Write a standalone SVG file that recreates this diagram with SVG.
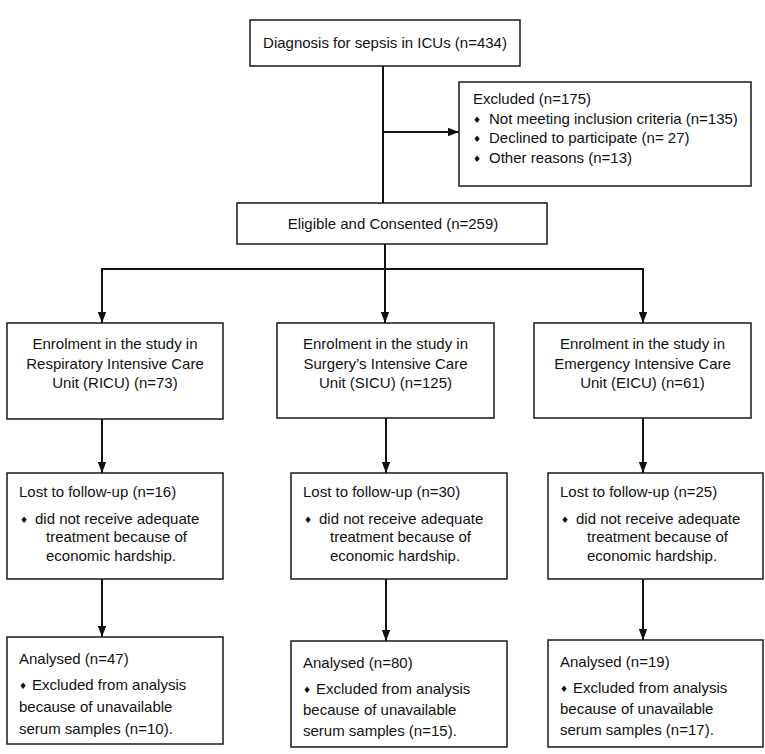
<svg xmlns="http://www.w3.org/2000/svg" width="765" height="754" viewBox="0 0 765 754">
<style>
.box{fill:#fff;stroke:#1a1a1a;stroke-width:1.5}
.t{font-family:"Liberation Sans",Arial,sans-serif;font-size:15px;fill:#111}
.c{text-anchor:middle}
.b{font-family:"DejaVu Sans",sans-serif;font-size:9px;fill:#111}
.ln{fill:none;stroke:#111;stroke-width:2}
</style>
<defs>
<marker id="ah" markerUnits="userSpaceOnUse" markerWidth="11" markerHeight="10" viewBox="0 0 11 10" refX="11" refY="5" orient="auto">
<path d="M0,0.8 L11,5 L0,9.2 Z" fill="#111"/>
</marker>
</defs>
<rect width="765" height="754" fill="#fff"/>
<g id="connectors">
<line class="ln" x1="383" y1="66" x2="383" y2="203"/>
<line class="ln" x1="383" y1="132" x2="459" y2="132" marker-end="url(#ah)"/>
<line class="ln" x1="385" y1="244" x2="385" y2="323" marker-end="url(#ah)"/>
<line class="ln" x1="101" y1="269" x2="644" y2="269"/>
<line class="ln" x1="102" y1="268" x2="102" y2="323" marker-end="url(#ah)"/>
<line class="ln" x1="643" y1="268" x2="643" y2="323" marker-end="url(#ah)"/>
<line class="ln" x1="102" y1="419" x2="102" y2="473" marker-end="url(#ah)"/>
<line class="ln" x1="386" y1="418" x2="386" y2="473" marker-end="url(#ah)"/>
<line class="ln" x1="643" y1="418" x2="643" y2="473" marker-end="url(#ah)"/>
<line class="ln" x1="102" y1="579" x2="102" y2="637" marker-end="url(#ah)"/>
<line class="ln" x1="386" y1="579" x2="386" y2="641" marker-end="url(#ah)"/>
<line class="ln" x1="643" y1="579" x2="643" y2="640" marker-end="url(#ah)"/>
</g>
<g id="diagnosis">
<rect class="box" x="250" y="20" width="270" height="46"/>
<text class="t c" x="385" y="48">Diagnosis for sepsis in ICUs (n=434)</text>
</g>
<g id="excluded">
<rect class="box" x="459" y="82" width="292" height="104"/>
<text class="t" x="473" y="104">Excluded (n=175)</text>
<text class="b" x="473" y="123">♦</text><text class="t" x="489" y="124">Not meeting inclusion criteria (n=135)</text>
<text class="b" x="473" y="142">♦</text><text class="t" x="489" y="143">Declined to participate (n= 27)</text>
<text class="b" x="473" y="162">♦</text><text class="t" x="489" y="163">Other reasons (n=13)</text>
</g>
<g id="eligible">
<rect class="box" x="237" y="203" width="310" height="41"/>
<text class="t c" x="393" y="229">Eligible and Consented (n=259)</text>
</g>
<g id="enrol-ricu">
<rect class="box" x="7" y="323" width="216" height="96"/>
<text class="t c" x="115" y="349">Enrolment in the study in</text>
<text class="t c" x="115" y="369">Respiratory Intensive Care</text>
<text class="t c" x="115" y="388">Unit (RICU) (n=73)</text>
</g>
<g id="enrol-sicu">
<rect class="box" x="277" y="323" width="217" height="95"/>
<text class="t c" x="385.5" y="349">Enrolment in the study in</text>
<text class="t c" x="385.5" y="369">Surgery’s Intensive Care</text>
<text class="t c" x="385.5" y="388">Unit (SICU) (n=125)</text>
</g>
<g id="enrol-eicu">
<rect class="box" x="534" y="323" width="217" height="95"/>
<text class="t c" x="642.5" y="349">Enrolment in the study in</text>
<text class="t c" x="642.5" y="369">Emergency Intensive Care</text>
<text class="t c" x="642.5" y="388">Unit (EICU) (n=61)</text>
</g>
<g id="lost-ricu">
<rect class="box" x="7" y="473" width="216" height="106"/>
<text class="t" x="19" y="497">Lost to follow-up (n=16)</text>
<text class="b" x="20" y="523">♦</text><text class="t" x="35" y="524">did not receive adequate</text>
<text class="t" x="46" y="542">treatment because of</text>
<text class="t" x="46" y="561">economic hardship.</text>
</g>
<g id="lost-sicu">
<rect class="box" x="291" y="473" width="216" height="106"/>
<text class="t" x="303" y="497">Lost to follow-up (n=30)</text>
<text class="b" x="304" y="523">♦</text><text class="t" x="319" y="524">did not receive adequate</text>
<text class="t" x="330" y="542">treatment because of</text>
<text class="t" x="330" y="561">economic hardship.</text>
</g>
<g id="lost-eicu">
<rect class="box" x="548" y="473" width="215" height="106"/>
<text class="t" x="560" y="497">Lost to follow-up (n=25)</text>
<text class="b" x="561" y="523">♦</text><text class="t" x="576" y="524">did not receive adequate</text>
<text class="t" x="587" y="542">treatment because of</text>
<text class="t" x="587" y="561">economic hardship.</text>
</g>
<g id="analysed-ricu">
<rect class="box" x="7" y="637" width="216" height="107"/>
<text class="t" x="19" y="664">Analysed (n=47)</text>
<text class="b" x="19" y="689">♦</text><text class="t" x="32" y="690">Excluded from analysis</text>
<text class="t" x="19" y="712">because of unavailable</text>
<text class="t" x="19" y="734">serum samples (n=10).</text>
</g>
<g id="analysed-sicu">
<rect class="box" x="291" y="641" width="216" height="106"/>
<text class="t" x="303" y="668">Analysed (n=80)</text>
<text class="b" x="303" y="693">♦</text><text class="t" x="316" y="694">Excluded from analysis</text>
<text class="t" x="303" y="715">because of unavailable</text>
<text class="t" x="303" y="736">serum samples (n=15).</text>
</g>
<g id="analysed-eicu">
<rect class="box" x="548" y="640" width="215" height="107"/>
<text class="t" x="560" y="667">Analysed (n=19)</text>
<text class="b" x="560" y="692">♦</text><text class="t" x="573" y="693">Excluded from analysis</text>
<text class="t" x="560" y="714">because of unavailable</text>
<text class="t" x="560" y="735">serum samples (n=17).</text>
</g>
</svg>
